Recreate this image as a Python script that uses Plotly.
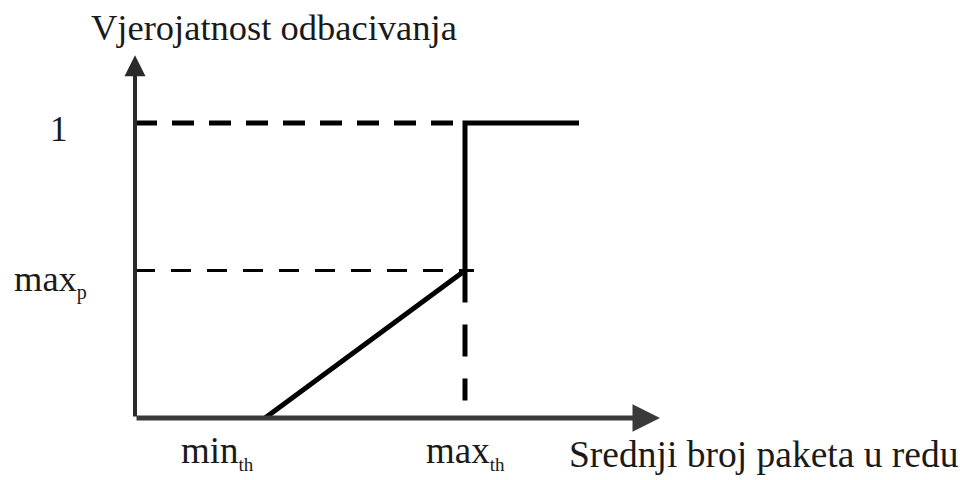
import plotly.graph_objects as go

# RED drop probability curve (abstract units)
min_th = 13
max_th = 33
x_end = 44.4
max_p = 0.5
p_full = 1

# axis extents (arrow tips)
x_axis_end = 52.5
y_axis_end = 1.23

curve_x = [min_th, max_th, max_th, x_end]
curve_y = [0, max_p, p_full, p_full]

y_label = 'Vjerojatnost odbacivanja'
x_label = 'Srednji broj paketa u redu'

FONT = 'Liberation Serif'
TXT = '#1a1a1a'

fig = go.Figure()

# dashed guide at probability 1
fig.add_trace(go.Scatter(x=[0, max_th], y=[p_full, p_full], mode='lines',
                         line=dict(color='black', width=5, dash='22px,15px')))
# dashed guide at max_p
fig.add_trace(go.Scatter(x=[0, max_th + 0.9], y=[max_p, max_p], mode='lines',
                         line=dict(color='black', width=3, dash='20px,16px')))
# dashed drop from max_th
fig.add_trace(go.Scatter(x=[max_th, max_th], y=[max_p, 0.06], mode='lines',
                         line=dict(color='black', width=5, dash='32px,22px')))
# the curve itself
fig.add_trace(go.Scatter(x=curve_x, y=curve_y, mode='lines',
                         line=dict(color='black', width=5)))

annotations = [
    # axes with arrows
    dict(x=x_axis_end, y=0, ax=0, ay=0, xref='x', yref='y', axref='x', ayref='y',
         text='', showarrow=True, arrowhead=2, arrowsize=1.1, arrowwidth=5,
         arrowcolor='#3a3a3a'),
    dict(x=0, y=y_axis_end, ax=0, ay=0, xref='x', yref='y', axref='x', ayref='y',
         text='', showarrow=True, arrowhead=2, arrowsize=1.05, arrowwidth=4,
         arrowcolor='#2a2a2a'),
    # labels
    dict(x=0, y=y_axis_end, xref='x', yref='y', text=y_label, showarrow=False,
         xanchor='left', yanchor='middle', xshift=-46, yshift=28,
         font=dict(family=FONT, size=36.5, color=TXT)),
    dict(x=0, y=p_full, xref='x', yref='y', text='1', showarrow=False,
         xanchor='center', yanchor='middle', xshift=-76, yshift=-6,
         font=dict(family=FONT, size=35, color=TXT)),
    dict(x=0, y=max_p, xref='x', yref='y',
         text='max<sub><span style="font-size:20px">p</span></sub>',
         showarrow=False, xanchor='left', yanchor='middle', xshift=-123, yshift=-10,
         font=dict(family=FONT, size=36.5, color=TXT)),
    dict(x=min_th, y=0, xref='x', yref='y',
         text='min<sub><span style="font-size:19px">th</span></sub>',
         showarrow=False, xanchor='left', yanchor='middle', xshift=-86, yshift=-34,
         font=dict(family=FONT, size=37, color=TXT)),
    dict(x=max_th, y=0, xref='x', yref='y',
         text='max<sub><span style="font-size:19px">th</span></sub>',
         showarrow=False, xanchor='left', yanchor='middle', xshift=-41, yshift=-34,
         font=dict(family=FONT, size=37, color=TXT)),
    dict(x=x_axis_end, y=0, xref='x', yref='y', text=x_label, showarrow=False,
         xanchor='left', yanchor='middle', xshift=-93, yshift=-36,
         font=dict(family=FONT, size=37.5, color=TXT)),
]

# the page adds an 8px body margin, so the ranges are set against that
fig.update_layout(
    width=978, height=480,
    margin=dict(l=0, r=0, t=0, b=0),
    paper_bgcolor='white', plot_bgcolor='white',
    showlegend=False,
    xaxis=dict(range=[-12.7, 85.1], visible=False, fixedrange=True),
    yaxis=dict(range=[-0.237, 1.390], visible=False, fixedrange=True),
    annotations=annotations,
)

fig.write_html('out.html')
